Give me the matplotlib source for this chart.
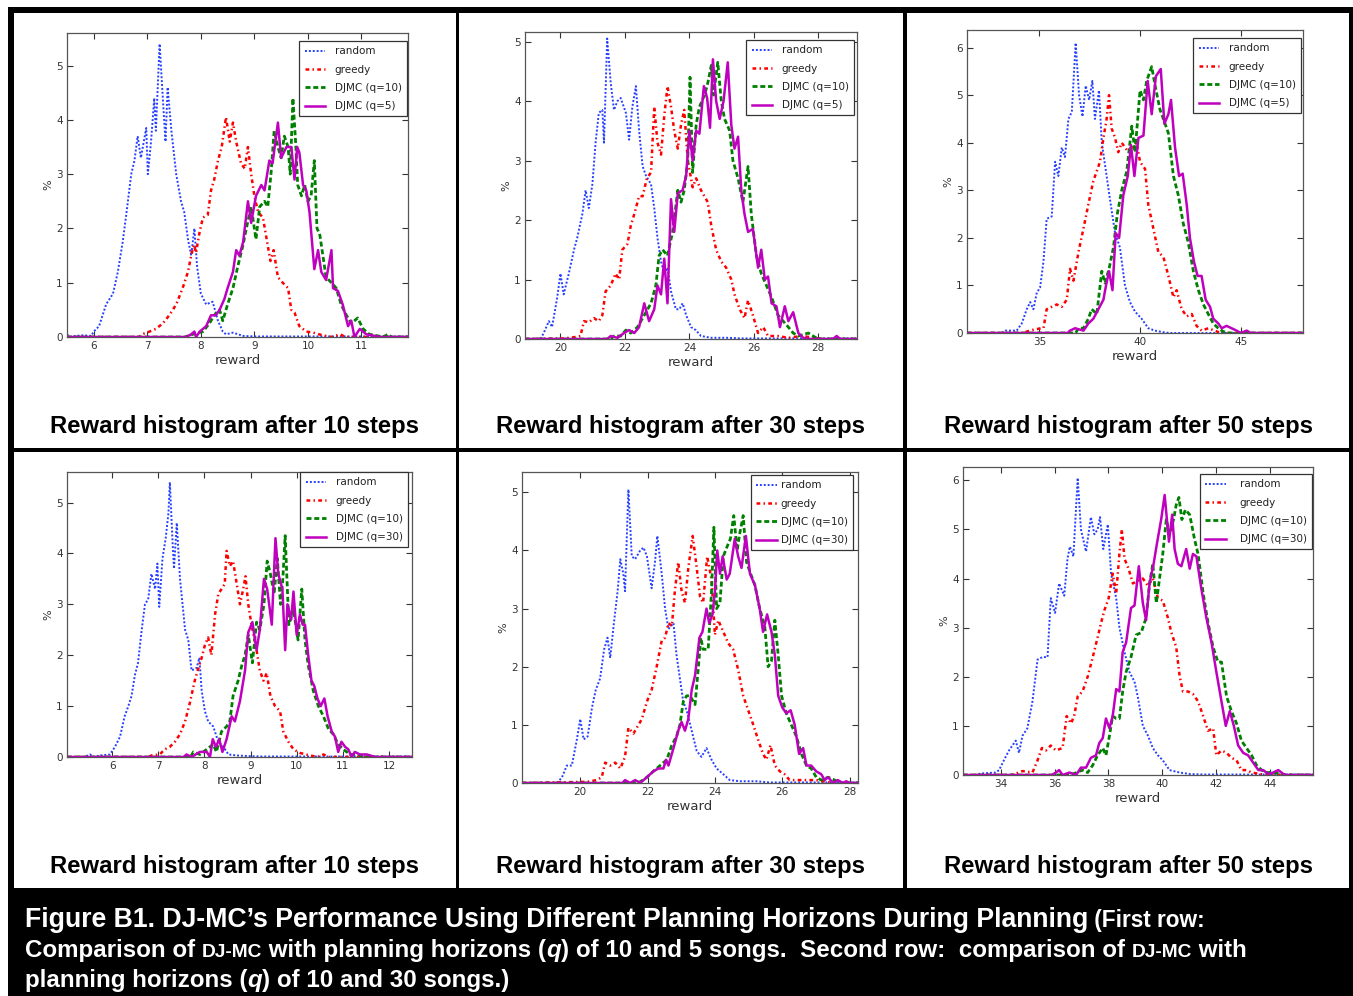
import matplotlib
matplotlib.use("Agg")
import matplotlib.pyplot as plt
from matplotlib.patches import Rectangle

# ---------------- data (reward, percent) ----------------
P1_RANDOM = [(5.5,0.05),(5.55,0.0),(5.65,0.02),(5.8,0.03),(5.95,0.02),(6.0,0.1),(6.1,0.2),(6.23,0.6),(6.36,0.8),(6.45,1.2),(6.54,1.75),(6.6,2.2),(6.7,3.0),(6.76,3.25),(6.82,3.7),(6.88,3.3),(6.98,3.85),(7.01,3.0),(7.07,3.6),(7.13,4.4),(7.16,3.8),(7.23,5.4),(7.29,4.4),(7.34,3.6),(7.38,4.6),(7.45,3.8),(7.54,3.0),(7.63,2.5),(7.69,2.3),(7.76,1.8),(7.82,1.5),(7.88,2.0),(7.93,1.3),(8.0,0.8),(8.1,0.6),(8.22,0.65),(8.32,0.3),(8.41,0.1),(8.47,0.05),(8.6,0.08),(8.79,0.02),(9.0,0.01),(11.87,0.01)]
P1_GREEDY = [(5.5,0),(6.85,0),(6.9,0.05),(7.04,0.1),(7.16,0.15),(7.29,0.25),(7.41,0.4),(7.54,0.6),(7.66,0.9),(7.76,1.2),(7.82,1.5),(7.87,1.7),(7.91,1.55),(7.98,1.95),(8.04,2.2),(8.13,2.25),(8.19,2.7),(8.25,2.9),(8.32,3.25),(8.39,3.5),(8.47,4.05),(8.54,3.6),(8.6,3.95),(8.66,3.6),(8.75,3.2),(8.82,3.1),(8.88,3.5),(8.94,3.0),(9.0,2.6),(9.07,2.3),(9.16,2.2),(9.23,1.8),(9.3,1.4),(9.36,1.6),(9.44,1.1),(9.53,1.0),(9.63,0.9),(9.69,0.5),(9.75,0.45),(9.84,0.2),(9.97,0.1),(10.1,0.08),(10.28,0.03),(10.45,0.0),(10.6,0.05),(10.7,0),(11.87,0)]
P1_Q10 = [(5.5,0),(7.7,0),(7.85,0.05),(8.04,0.1),(8.16,0.25),(8.25,0.4),(8.35,0.5),(8.41,0.3),(8.5,0.6),(8.6,0.9),(8.69,1.3),(8.79,1.7),(8.85,2.0),(8.94,2.4),(9.03,1.8),(9.1,2.4),(9.19,2.5),(9.25,2.4),(9.31,3.0),(9.37,3.8),(9.44,3.5),(9.5,3.3),(9.56,3.7),(9.63,3.5),(9.67,3.0),(9.72,4.4),(9.77,3.6),(9.81,2.8),(9.88,2.6),(9.94,2.8),(10.0,2.5),(10.06,2.6),(10.12,3.25),(10.17,2.0),(10.22,1.9),(10.28,1.5),(10.34,1.1),(10.44,1.0),(10.53,0.9),(10.62,0.6),(10.72,0.4),(10.81,0.25),(10.93,0.35),(11.03,0.15),(11.15,0.05),(11.31,0.02),(11.4,0),(11.5,0.05),(11.56,0),(11.87,0)]
P1_QN = [(5.5,0),(7.73,0),(7.82,0.05),(7.88,0.1),(7.91,0.0),(7.98,0.1),(8.1,0.2),(8.19,0.4),(8.28,0.4),(8.35,0.5),(8.44,0.7),(8.5,0.9),(8.6,1.2),(8.66,1.6),(8.72,1.5),(8.79,1.75),(8.88,2.5),(8.94,2.1),(9.03,2.6),(9.13,2.8),(9.19,2.7),(9.28,3.25),(9.34,3.2),(9.44,3.95),(9.5,3.3),(9.6,3.5),(9.69,3.5),(9.75,2.9),(9.8,3.5),(9.84,3.4),(9.91,2.8),(9.97,2.7),(10.03,2.3),(10.12,1.25),(10.19,1.6),(10.25,1.2),(10.34,1.05),(10.44,1.6),(10.47,0.9),(10.56,0.85),(10.65,0.6),(10.75,0.2),(10.81,0.3),(10.87,0.0),(10.97,0.15),(11.09,0.05),(11.25,0.02),(11.35,0),(11.87,0)]

P2_RANDOM = [(18.9,0),(19.38,0),(19.48,0.1),(19.64,0.3),(19.74,0.2),(19.9,0.7),(20.0,1.1),(20.1,0.75),(20.26,1.1),(20.42,1.5),(20.52,1.7),(20.68,2.1),(20.78,2.5),(20.88,2.2),(20.99,2.6),(21.09,3.3),(21.19,3.8),(21.3,3.85),(21.35,3.3),(21.45,5.05),(21.56,4.3),(21.66,3.85),(21.77,4.0),(21.87,4.05),(22.03,3.8),(22.13,3.35),(22.23,3.9),(22.34,4.25),(22.44,3.5),(22.55,2.9),(22.65,2.75),(22.81,2.6),(22.91,2.2),(23.01,1.7),(23.12,1.3),(23.22,1.1),(23.32,1.2),(23.43,0.8),(23.58,0.5),(23.69,0.5),(23.79,0.6),(23.9,0.4),(24.05,0.2),(24.2,0.15),(24.36,0.05),(24.68,0.02),(25.2,0.02),(25.6,0.01),(29.2,0.01)]
P2_GREEDY = [(18.9,0),(20.1,0.01),(20.42,0.03),(20.62,0.05),(20.73,0.3),(20.88,0.28),(21.04,0.35),(21.19,0.3),(21.3,0.4),(21.4,0.8),(21.56,0.9),(21.71,1.1),(21.82,1.0),(21.92,1.5),(22.08,1.6),(22.18,1.9),(22.29,2.1),(22.44,2.4),(22.55,2.4),(22.68,2.7),(22.81,2.8),(22.91,3.9),(23.01,3.3),(23.12,3.1),(23.22,3.75),(23.32,4.25),(23.43,3.9),(23.53,3.5),(23.64,3.2),(23.74,3.6),(23.84,3.85),(23.95,3.0),(24.1,2.55),(24.21,2.7),(24.36,2.5),(24.57,2.3),(24.68,1.9),(24.83,1.5),(24.99,1.3),(25.14,1.2),(25.3,1.0),(25.4,0.75),(25.56,0.5),(25.71,0.35),(25.82,0.65),(25.97,0.4),(26.13,0.1),(26.29,0.2),(26.44,0.05),(26.75,0.05),(27.07,0.02),(27.48,0.05),(27.9,0.02),(28.1,0),(29.2,0)]
P2_Q10 = [(18.9,0),(21.56,0),(21.66,0.05),(21.87,0.05),(22.03,0.15),(22.18,0.1),(22.39,0.2),(22.6,0.4),(22.81,0.6),(22.96,0.9),(23.06,1.4),(23.17,1.5),(23.32,1.4),(23.48,1.8),(23.64,2.5),(23.74,2.3),(23.84,2.5),(23.95,3.0),(24.02,4.4),(24.1,2.8),(24.21,3.6),(24.31,3.9),(24.47,4.1),(24.57,4.3),(24.68,4.6),(24.75,4.1),(24.88,4.65),(24.99,4.0),(25.09,3.7),(25.25,3.5),(25.35,3.0),(25.51,2.7),(25.66,2.3),(25.82,2.9),(25.92,2.1),(26.08,1.4),(26.23,1.1),(26.39,0.9),(26.55,0.7),(26.75,0.4),(26.91,0.3),(27.07,0.2),(27.22,0.1),(27.38,0.05),(27.69,0.1),(27.9,0.03),(28.0,0),(29.2,0)]
P2_QN = [(18.9,0),(21.45,0),(21.56,0.05),(21.77,0.02),(21.97,0.1),(22.13,0.15),(22.29,0.1),(22.44,0.2),(22.6,0.6),(22.75,0.3),(22.91,0.5),(23.01,0.9),(23.12,0.75),(23.22,1.35),(23.32,0.6),(23.43,2.35),(23.53,1.8),(23.64,2.45),(23.79,2.5),(23.9,2.75),(24.0,3.5),(24.1,3.0),(24.21,3.5),(24.31,3.45),(24.45,4.25),(24.55,4.05),(24.64,3.55),(24.73,4.7),(24.83,4.0),(24.94,3.7),(25.06,4.0),(25.19,4.65),(25.3,3.6),(25.4,3.2),(25.51,3.4),(25.61,2.5),(25.71,2.1),(25.82,1.8),(25.97,1.85),(26.13,1.2),(26.23,1.5),(26.34,1.0),(26.44,1.05),(26.55,0.6),(26.7,0.55),(26.81,0.2),(26.96,0.55),(27.07,0.3),(27.22,0.45),(27.38,0.1),(27.53,0.02),(27.7,0),(28.45,0),(28.57,0.05),(28.68,0),(29.2,0)]

P3_RANDOM = [(31.4,0),(33.13,0),(33.3,0.05),(33.87,0.05),(34.12,0.2),(34.37,0.5),(34.54,0.65),(34.7,0.5),(34.87,0.85),(35.03,0.95),(35.2,1.5),(35.36,2.4),(35.61,2.45),(35.78,3.6),(35.94,3.3),(36.11,3.9),(36.27,3.7),(36.44,4.5),(36.61,4.65),(36.8,6.1),(36.97,5.0),(37.14,4.55),(37.3,5.2),(37.47,4.9),(37.63,5.3),(37.76,4.5),(37.96,5.1),(38.1,4.0),(38.34,3.3),(38.51,2.8),(38.76,2.1),(39.0,1.8),(39.25,1.0),(39.5,0.65),(39.75,0.45),(40.08,0.3),(40.41,0.1),(40.74,0.05),(41.24,0.01),(41.5,0),(48.1,0)]
P3_GREEDY = [(31.4,0),(34.2,0),(34.37,0.03),(34.78,0.08),(35.2,0.1),(35.36,0.5),(35.61,0.55),(35.86,0.6),(36.11,0.55),(36.36,0.7),(36.52,1.35),(36.69,1.1),(36.94,1.7),(37.19,2.2),(37.43,2.7),(37.68,3.2),(37.85,3.4),(38.01,3.6),(38.18,4.1),(38.34,4.5),(38.46,5.0),(38.59,4.3),(38.76,4.1),(38.92,3.8),(39.09,4.0),(39.34,3.85),(39.59,3.9),(39.83,4.0),(40.0,3.6),(40.25,3.45),(40.41,2.7),(40.66,2.2),(40.91,1.7),(41.16,1.6),(41.41,1.2),(41.66,0.75),(41.82,0.9),(42.07,0.5),(42.32,0.35),(42.57,0.4),(42.81,0.15),(43.06,0.05),(43.39,0.1),(43.89,0.02),(44.2,0),(48.1,0)]
P3_Q10 = [(31.4,0),(36.8,0),(36.94,0.1),(37.19,0.1),(37.43,0.3),(37.6,0.5),(37.85,0.4),(38.1,1.3),(38.26,1.05),(38.46,1.35),(38.68,1.8),(38.87,2.5),(39.09,3.0),(39.34,3.4),(39.59,4.35),(39.75,3.8),(40.0,5.1),(40.17,4.9),(40.33,5.3),(40.58,5.6),(40.75,5.2),(40.99,4.7),(41.16,4.5),(41.41,4.2),(41.66,3.3),(41.9,2.9),(42.15,2.3),(42.4,1.9),(42.65,1.3),(42.9,0.9),(43.15,0.6),(43.39,0.4),(43.64,0.2),(43.89,0.1),(44.14,0.03),(44.4,0),(48.1,0)]
P3_QN = [(31.4,0),(36.4,0),(36.52,0.05),(36.77,0.1),(37.19,0.05),(37.43,0.2),(37.68,0.3),(37.93,0.5),(38.18,0.7),(38.31,1.0),(38.46,1.3),(38.63,0.9),(38.79,2.1),(38.96,2.0),(39.17,2.9),(39.39,3.3),(39.55,3.95),(39.72,3.3),(39.92,4.1),(40.17,4.15),(40.38,5.3),(40.58,4.6),(40.79,5.4),(41.03,5.55),(41.21,4.4),(41.41,4.6),(41.54,4.9),(41.74,3.9),(41.94,3.3),(42.12,3.35),(42.32,2.7),(42.48,2.0),(42.68,1.5),(42.86,1.2),(43.06,1.2),(43.26,0.7),(43.48,0.55),(43.64,0.3),(43.89,0.2),(44.06,0.1),(44.3,0.15),(44.55,0.1),(44.8,0.05),(45.0,0),(45.3,0.05),(45.5,0),(48.1,0)]

P4_RANDOM = [(5.02,0),(5.4,0),(5.52,0.05),(5.6,0),(5.73,0.03),(5.95,0.05),(6.06,0.2),(6.17,0.4),(6.27,0.8),(6.35,1.0),(6.42,1.2),(6.49,1.6),(6.56,1.85),(6.64,2.5),(6.71,3.0),(6.78,3.1),(6.85,3.6),(6.93,3.3),(6.98,3.8),(7.02,2.95),(7.09,3.9),(7.16,4.3),(7.22,4.8),(7.25,5.4),(7.31,4.2),(7.34,3.7),(7.4,4.6),(7.47,3.5),(7.58,2.5),(7.65,2.3),(7.72,1.7),(7.83,1.75),(7.89,1.95),(7.94,1.3),(8.01,0.9),(8.08,0.7),(8.19,0.6),(8.3,0.3),(8.41,0.2),(8.52,0.05),(8.7,0.03),(8.91,0.02),(9.2,0.01),(12.5,0.01)]
P4_GREEDY = [(5.02,0),(6.8,0),(6.85,0.03),(7.03,0.05),(7.14,0.15),(7.25,0.2),(7.36,0.3),(7.47,0.45),(7.58,0.7),(7.68,1.05),(7.79,1.5),(7.87,1.75),(7.94,1.95),(8.01,2.2),(8.08,2.35),(8.15,2.0),(8.23,2.8),(8.3,3.2),(8.37,3.3),(8.44,3.4),(8.48,4.05),(8.55,3.75),(8.62,3.85),(8.7,3.4),(8.77,3.0),(8.84,3.3),(8.89,3.55),(8.95,3.0),(9.02,2.6),(9.13,2.1),(9.2,1.7),(9.28,1.5),(9.35,1.65),(9.43,1.2),(9.53,1.0),(9.64,0.9),(9.71,0.5),(9.82,0.3),(9.93,0.15),(10.07,0.08),(10.29,0.03),(10.45,0),(10.58,0.05),(10.7,0),(12.5,0)]
P4_Q10 = [(5.02,0),(7.7,0),(7.76,0.1),(7.9,0.05),(8.05,0.15),(8.19,0.25),(8.26,0.1),(8.37,0.5),(8.48,0.6),(8.55,0.7),(8.62,1.2),(8.73,1.5),(8.81,1.8),(8.88,2.0),(8.95,2.4),(9.04,1.85),(9.13,2.65),(9.2,2.5),(9.29,3.0),(9.36,3.85),(9.43,3.6),(9.51,3.2),(9.58,3.9),(9.65,3.0),(9.7,3.5),(9.75,4.35),(9.83,2.6),(9.93,2.9),(10.03,2.3),(10.11,3.3),(10.18,2.3),(10.25,1.8),(10.36,1.3),(10.47,1.0),(10.58,0.8),(10.69,0.55),(10.79,0.45),(10.9,0.25),(11.01,0.15),(11.16,0.05),(11.34,0.05),(11.45,0),(12.5,0)]
P4_QN = [(5.02,0),(7.55,0),(7.61,0.05),(7.72,0.0),(7.9,0.1),(8.05,0.1),(8.12,0.0),(8.18,0.35),(8.25,0.2),(8.32,0.35),(8.39,0.1),(8.48,0.35),(8.59,0.8),(8.66,0.7),(8.77,1.1),(8.88,1.7),(8.95,2.45),(9.04,2.65),(9.13,2.1),(9.2,2.5),(9.29,3.5),(9.36,3.3),(9.46,2.6),(9.54,4.3),(9.6,3.6),(9.69,3.3),(9.75,2.1),(9.8,3.0),(9.88,2.7),(9.93,3.25),(10.0,2.4),(10.07,2.8),(10.13,2.6),(10.18,2.6),(10.25,2.0),(10.32,1.5),(10.38,1.4),(10.45,1.15),(10.52,1.0),(10.6,1.15),(10.67,0.8),(10.76,0.5),(10.83,0.4),(10.9,0.1),(10.97,0.3),(11.05,0.2),(11.12,0.15),(11.19,0.0),(11.26,0.1),(11.37,0.05),(11.52,0.05),(11.63,0.02),(11.7,0),(12.5,0)]

P5_RANDOM = [(18.27,0),(19.31,0),(19.46,0.1),(19.6,0.3),(19.75,0.3),(19.9,0.75),(20.0,1.1),(20.1,0.75),(20.22,0.8),(20.35,1.3),(20.46,1.6),(20.59,1.8),(20.71,2.3),(20.81,2.5),(20.89,2.15),(20.99,2.7),(21.11,3.3),(21.19,3.85),(21.28,3.6),(21.33,3.3),(21.43,5.05),(21.53,3.9),(21.63,3.85),(21.78,4.0),(21.88,4.05),(21.98,3.9),(22.12,3.35),(22.22,3.8),(22.29,4.25),(22.42,3.6),(22.52,3.0),(22.62,2.65),(22.77,2.75),(22.86,2.2),(22.96,1.8),(23.06,1.4),(23.16,1.25),(23.31,0.9),(23.46,0.55),(23.6,0.45),(23.75,0.6),(23.9,0.4),(24.05,0.25),(24.25,0.15),(24.44,0.05),(24.74,0.03),(25.23,0.03),(25.6,0.01),(28.25,0.01)]
P5_GREEDY = [(18.27,0),(20.2,0.02),(20.49,0.05),(20.64,0.1),(20.74,0.35),(20.89,0.3),(21.04,0.35),(21.19,0.25),(21.33,0.45),(21.43,0.95),(21.58,0.85),(21.73,1.0),(21.83,1.1),(21.98,1.4),(22.12,1.6),(22.27,2.0),(22.42,2.45),(22.52,2.5),(22.62,2.75),(22.72,2.7),(22.81,3.3),(22.91,3.8),(23.01,3.3),(23.11,3.1),(23.21,3.7),(23.34,4.25),(23.46,3.7),(23.56,3.2),(23.65,3.1),(23.77,3.9),(23.9,3.5),(24.0,2.55),(24.1,2.8),(24.25,2.6),(24.4,2.4),(24.54,2.3),(24.69,1.95),(24.84,1.5),(24.99,1.25),(25.14,1.0),(25.28,0.75),(25.43,0.5),(25.53,0.4),(25.65,0.65),(25.78,0.3),(25.93,0.2),(26.07,0.15),(26.22,0.05),(26.52,0.05),(26.81,0.05),(27.01,0.05),(27.31,0.02),(27.5,0),(28.25,0)]
P5_Q10 = [(18.27,0),(21.5,0),(21.78,0.02),(21.98,0.1),(22.17,0.2),(22.37,0.3),(22.57,0.4),(22.72,0.65),(22.86,0.8),(22.96,1.0),(23.06,1.4),(23.16,1.5),(23.26,1.5),(23.41,1.35),(23.51,2.0),(23.58,2.5),(23.65,2.3),(23.8,2.3),(23.9,3.3),(23.97,4.4),(24.05,3.0),(24.15,3.1),(24.25,3.9),(24.35,4.05),(24.46,4.2),(24.56,4.6),(24.66,4.0),(24.74,4.3),(24.84,4.6),(24.94,3.8),(25.06,3.6),(25.19,3.4),(25.33,3.0),(25.48,2.7),(25.58,2.0),(25.68,2.1),(25.78,2.8),(25.88,2.2),(25.98,1.5),(26.12,1.2),(26.27,1.0),(26.42,0.8),(26.57,0.5),(26.72,0.3),(26.86,0.25),(27.01,0.1),(27.16,0.05),(27.36,0.1),(27.56,0.05),(27.7,0),(28.25,0)]
P5_QN = [(18.27,0),(21.25,0),(21.33,0.05),(21.48,0.0),(21.63,0.05),(21.78,0.0),(21.98,0.1),(22.17,0.2),(22.32,0.25),(22.47,0.25),(22.55,0.4),(22.62,0.3),(22.77,0.6),(22.91,0.9),(23.01,1.05),(23.11,0.9),(23.21,1.1),(23.31,1.6),(23.41,1.85),(23.54,2.5),(23.63,2.6),(23.75,3.0),(23.83,2.75),(23.93,2.9),(24.0,3.3),(24.07,4.0),(24.15,3.6),(24.23,3.9),(24.35,3.5),(24.44,3.6),(24.59,4.2),(24.69,3.9),(24.79,3.7),(24.92,4.25),(25.04,3.6),(25.19,3.4),(25.33,3.0),(25.43,2.6),(25.55,2.9),(25.68,2.6),(25.78,2.2),(25.88,1.5),(26.0,1.3),(26.12,1.2),(26.25,1.25),(26.37,1.0),(26.5,0.5),(26.62,0.6),(26.72,0.3),(26.86,0.3),(27.01,0.2),(27.16,0.15),(27.26,0.05),(27.36,0.1),(27.51,0.0),(27.65,0.05),(27.8,0.0),(27.9,0.03),(28.0,0),(28.25,0)]

P6_RANDOM = [(32.6,0),(33.1,0),(33.25,0.03),(33.81,0.05),(33.94,0.1),(34.12,0.3),(34.31,0.5),(34.56,0.7),(34.68,0.45),(34.81,0.8),(34.99,0.95),(35.18,1.5),(35.37,2.35),(35.55,2.4),(35.74,2.4),(35.86,3.6),(36.02,3.3),(36.17,3.9),(36.36,3.65),(36.48,4.4),(36.57,4.65),(36.7,4.45),(36.86,6.05),(36.98,5.0),(37.17,4.55),(37.35,5.25),(37.48,4.9),(37.6,5.0),(37.69,5.25),(37.81,4.6),(37.98,5.1),(38.1,4.1),(38.29,3.6),(38.41,3.0),(38.6,2.5),(38.78,2.1),(38.97,1.9),(39.09,1.6),(39.28,1.0),(39.47,0.8),(39.65,0.55),(39.84,0.4),(40.02,0.3),(40.27,0.1),(40.65,0.05),(41.02,0.02),(41.52,0.01),(45.6,0.01)]
P6_GREEDY = [(32.6,0),(34.4,0),(34.56,0.03),(34.81,0.08),(35.18,0.05),(35.37,0.3),(35.53,0.55),(35.68,0.5),(35.86,0.6),(36.05,0.5),(36.3,0.55),(36.45,1.2),(36.61,1.05),(36.73,1.2),(36.86,1.6),(37.04,1.7),(37.23,2.0),(37.42,2.4),(37.6,2.8),(37.73,3.1),(37.85,3.35),(38.01,3.6),(38.16,4.1),(38.29,3.7),(38.41,4.5),(38.5,5.0),(38.6,4.4),(38.75,4.2),(38.91,3.9),(39.09,3.95),(39.28,4.0),(39.47,3.85),(39.65,4.0),(39.84,3.6),(40.02,3.55),(40.21,3.2),(40.34,2.9),(40.52,2.6),(40.65,2.0),(40.77,1.7),(40.96,1.7),(41.14,1.65),(41.33,1.5),(41.52,1.2),(41.7,0.9),(41.89,0.95),(42.01,0.4),(42.2,0.5),(42.39,0.45),(42.57,0.35),(42.76,0.3),(42.94,0.1),(43.13,0.1),(43.32,0.05),(43.63,0.02),(43.9,0),(45.6,0)]
P6_Q10 = [(32.6,0),(36.5,0),(36.73,0.03),(37.04,0.1),(37.23,0.05),(37.42,0.2),(37.6,0.4),(37.79,0.55),(37.91,0.4),(38.04,0.8),(38.16,1.2),(38.29,1.15),(38.41,1.15),(38.53,1.7),(38.66,2.1),(38.84,2.4),(39.03,2.85),(39.22,2.9),(39.4,3.2),(39.53,3.9),(39.65,4.3),(39.78,3.5),(39.9,4.0),(40.02,4.5),(40.15,5.2),(40.27,4.9),(40.42,5.2),(40.52,5.5),(40.62,5.65),(40.73,5.2),(40.86,5.4),(41.02,5.3),(41.2,4.8),(41.33,4.5),(41.52,3.7),(41.7,3.1),(41.89,2.6),(42.07,2.3),(42.2,2.3),(42.39,1.6),(42.57,1.3),(42.76,1.05),(42.94,0.7),(43.13,0.55),(43.32,0.4),(43.5,0.2),(43.69,0.1),(43.88,0.05),(44.13,0.05),(44.37,0.03),(44.6,0),(45.6,0)]
P6_QN = [(32.6,0),(35.9,0),(36.05,0.05),(36.17,0.1),(36.3,0.0),(36.55,0.05),(36.8,0.0),(36.98,0.15),(37.17,0.15),(37.35,0.35),(37.54,0.4),(37.66,0.65),(37.79,0.75),(37.91,1.15),(38.04,0.95),(38.16,1.2),(38.29,1.75),(38.41,1.7),(38.53,2.5),(38.66,2.7),(38.84,3.4),(38.97,3.45),(39.13,4.25),(39.28,3.5),(39.4,3.15),(39.53,3.9),(39.68,4.3),(39.8,4.7),(39.96,5.2),(40.09,5.7),(40.25,4.75),(40.37,5.3),(40.46,4.6),(40.58,4.3),(40.71,4.25),(40.89,4.6),(41.02,4.2),(41.14,4.5),(41.27,4.45),(41.45,3.8),(41.64,3.2),(41.83,2.7),(42.01,2.1),(42.2,1.5),(42.36,1.0),(42.51,1.3),(42.66,1.0),(42.82,0.6),(43.01,0.45),(43.19,0.4),(43.38,0.25),(43.57,0.1),(43.75,0.1),(43.94,0.02),(44.12,0.05),(44.31,0.1),(44.5,0.02),(44.6,0),(45.6,0)]

SERIES_LABELS = ["random", "greedy", "DJMC (q=10)"]
ROW_QN_LABELS = ["DJMC (q=5)", "DJMC (q=30)"]
PANEL_STEPS = [10, 30, 50, 10, 30, 50]
PANEL_DATA = [
    (P1_RANDOM, P1_GREEDY, P1_Q10, P1_QN),
    (P2_RANDOM, P2_GREEDY, P2_Q10, P2_QN),
    (P3_RANDOM, P3_GREEDY, P3_Q10, P3_QN),
    (P4_RANDOM, P4_GREEDY, P4_Q10, P4_QN),
    (P5_RANDOM, P5_GREEDY, P5_Q10, P5_QN),
    (P6_RANDOM, P6_GREEDY, P6_Q10, P6_QN),
]
PANEL_XTICKS = [[6, 7, 8, 9, 10, 11], [20, 22, 24, 26, 28], [35, 40, 45],
                [6, 7, 8, 9, 10, 11, 12], [20, 22, 24, 26, 28], [34, 36, 38, 40, 42, 44]]
PANEL_YTICKS = [[0, 1, 2, 3, 4, 5], [0, 1, 2, 3, 4, 5], [0, 1, 2, 3, 4, 5, 6],
                [0, 1, 2, 3, 4, 5], [0, 1, 2, 3, 4, 5], [0, 1, 2, 3, 4, 5, 6]]

# ---------------- layout ----------------
W, H = 1353, 996
fig = plt.figure(figsize=(W / 100, H / 100), dpi=100)
fig.patch.set_facecolor("white")

def fx(x):
    return x / W

def fy(y):
    return 1 - y / H

fig.add_artist(Rectangle((fx(8), 0), 1 - fx(8), fy(7), transform=fig.transFigure,
                         facecolor="black", edgecolor="none", zorder=-3))
COLS = [(14, 456), (459, 903), (907, 1349)]
ROWS = [(13, 448), (452, 888)]
for (y0, y1) in ROWS:
    for (x0, x1) in COLS:
        fig.add_artist(Rectangle((fx(x0), fy(y1)), (x1 - x0) / W, (y1 - y0) / H,
                                 transform=fig.transFigure, facecolor="white",
                                 edgecolor="none", zorder=-2))

# axes boxes: left, top, right, bottom (px)
AX_BOX = [(67, 33, 408, 337), (525, 32, 857, 339), (967, 30, 1303, 333),
          (67, 472, 412, 757), (522, 472, 858, 783), (963, 467, 1313, 775)]
AX_XLIM = [(5.5, 11.87), (18.9, 29.2), (31.4, 48.1), (5.02, 12.5), (18.27, 28.25), (32.6, 45.6)]
AX_YLIM = [(0, 5.6), (0, 5.16), (0, 6.37), (0, 5.6), (0, 5.35), (0, 6.27)]
LEG_OFF = [(1, 8), (3, 8), (2, 8), (4, 0), (5, 3), (1, 7)]
LEG_TEXTPAD = [0.9, 0.9, 0.9, 0.9, 0.35, 1.3]

STYLES = [dict(color=(0.15, 0.25, 1.0), ls=(0, (1, 1)), lw=1.4),
          dict(color="r", ls=(0, (1.5, 1.3, 0.6, 1.3)), lw=1.8),
          dict(color=(0, 0.5, 0), ls=(0, (1.8, 1.0)), lw=2.0),
          dict(color=(0.75, 0, 0.75), ls="-", lw=1.8)]

for i in range(6):
    l, t, r, b = AX_BOX[i]
    ax = fig.add_axes([fx(l), fy(b), (r - l) / W, (b - t) / H])
    labels = SERIES_LABELS + [ROW_QN_LABELS[i // 3]]
    for series, st, lab in zip(PANEL_DATA[i], STYLES, labels):
        xs = [p[0] for p in series]
        ys = [p[1] for p in series]
        ax.plot(xs, ys, label=lab, **st)
    ax.set_xlim(*AX_XLIM[i])
    ax.set_ylim(*AX_YLIM[i])
    ax.set_xticks(PANEL_XTICKS[i])
    ax.set_yticks(PANEL_YTICKS[i])
    ax.tick_params(direction="in", top=True, right=True, length=4, width=0.8,
                   colors="#333333", labelsize=7.5, pad=3)
    for s in ax.spines.values():
        s.set_color("#555555")
        s.set_linewidth(0.9)
    ax.set_xlabel("reward", fontsize=9.5, color="#333333", labelpad=2)
    ax.set_ylabel("%", fontsize=8, color="#333333", labelpad=2)
    dx, dy = LEG_OFF[i]
    leg = ax.legend(loc="upper right",
                    bbox_to_anchor=(1 - dx / (r - l), 1 - dy / (b - t)),
                    fontsize=7.5, handlelength=2.0, handletextpad=LEG_TEXTPAD[i],
                    labelspacing=0.8, borderpad=0.5, borderaxespad=0,
                    fancybox=False, framealpha=1, edgecolor="#333333")
    leg.get_frame().set_linewidth(0.9)
    for txt in leg.get_texts():
        txt.set_color("#222222")
    cx = (COLS[i % 3][0] + COLS[i % 3][1]) / 2
    base = 433 if i < 3 else 873
    fig.text(fx(cx), fy(base), f"Reward histogram after {PANEL_STEPS[i]} steps",
             ha="center", va="baseline", fontsize=17.2, fontweight="bold",
             family="Liberation Sans", color="black")

# ---------------- caption ----------------
fig.canvas.draw()
renderer = fig.canvas.get_renderer()

def run_width(text, size, style):
    def w(s):
        t = fig.text(0, 0, s, fontsize=size, fontweight="bold", fontstyle=style,
                     family="Liberation Sans")
        bb = t.get_window_extent(renderer)
        t.remove()
        return bb.width
    return w("|" + text + "|") - w("||")

def measure(runs, scale):
    return sum(run_width(tx, sz * scale, st) for tx, sz, st in runs)

def draw_runs(x0, yb, runs, scale):
    x = x0
    for tx, sz, st in runs:
        fig.text(fx(x), fy(yb), tx, fontsize=sz * scale, fontweight="bold",
                 fontstyle=st, family="Liberation Sans", color="white",
                 ha="left", va="baseline")
        x += run_width(tx, sz * scale, st)

LINE1 = [("Figure B1. DJ-MC\u2019s Performance Using Different Planning Horizons During Planning", 17, "normal"),
         (" (First row:", 14.5, "normal")]
LINE2 = [("Comparison of ", 14.5, "normal"), ("DJ-MC", 11.5, "normal"),
         (" with planning horizons (", 14.5, "normal"), ("q", 14.5, "italic"),
         (") of 10 and 5 songs.  Second row:  comparison of ", 14.5, "normal"),
         ("DJ-MC", 11.5, "normal"), (" with", 14.5, "normal")]
LINE3 = [("planning horizons (", 14.5, "normal"), ("q", 14.5, "italic"),
         (") of 10 and 30 songs.)", 14.5, "normal")]

s1 = 1185 / measure(LINE1, 1.0)
s2 = 1222 / measure(LINE2, 1.0)
draw_runs(25, 927, LINE1, s1)
draw_runs(25, 957, LINE2, s2)
draw_runs(25, 987, LINE3, s2)

fig.savefig("out.png", dpi=100, facecolor="white")
